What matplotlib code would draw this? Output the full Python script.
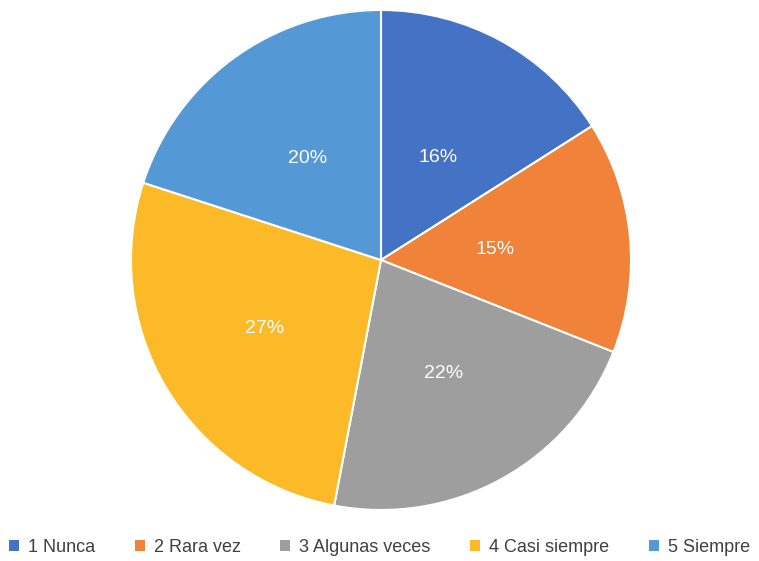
import matplotlib.pyplot as plt
import numpy as np
from matplotlib.patches import Patch

plt.rcParams['font.family'] = ['Liberation Sans', 'DejaVu Sans']

# data
labels = ['1 Nunca', '2 Rara vez', '3 Algunas veces', '4 Casi siempre', '5 Siempre']
values = [16, 15, 22, 27, 20]
colors = ['#4472C4', '#F08239', '#9E9E9E', '#FDBA28', '#5498D5']

# radial position of each percentage label (fraction of radius)
label_r = [0.47, 0.46, 0.52, 0.54, 0.50]

fig = plt.figure(figsize=(7.59, 5.61), dpi=100)
ax = fig.add_axes([131 / 759, 51 / 561, 500 / 759, 500 / 561])

wedges, texts, autotexts = ax.pie(
    values, colors=colors, startangle=90, counterclock=False,
    autopct='%1.0f%%', pctdistance=0.5,
    wedgeprops=dict(edgecolor='white', linewidth=1.5),
    textprops=dict(color='white', fontsize=14))
for w, t, r in zip(wedges, autotexts, label_r):
    ang = np.deg2rad((w.theta1 + w.theta2) / 2)
    t.set_position((r * np.cos(ang), r * np.sin(ang)))
ax.set_xlim(-1.0, 1.0)
ax.set_ylim(-1.0, 1.0)
ax.set_aspect('equal')

handles = [Patch(facecolor=c, edgecolor='none') for c in colors]
fig.legend(handles, labels, loc='center', bbox_to_anchor=(0.5, 1 - 547 / 561),
           ncol=5, frameon=False, fontsize=13, handlelength=0.55, handleheight=0.55,
           handletextpad=0.5, columnspacing=2.2, labelcolor='#404040')

fig.savefig('out.png', dpi=100)
